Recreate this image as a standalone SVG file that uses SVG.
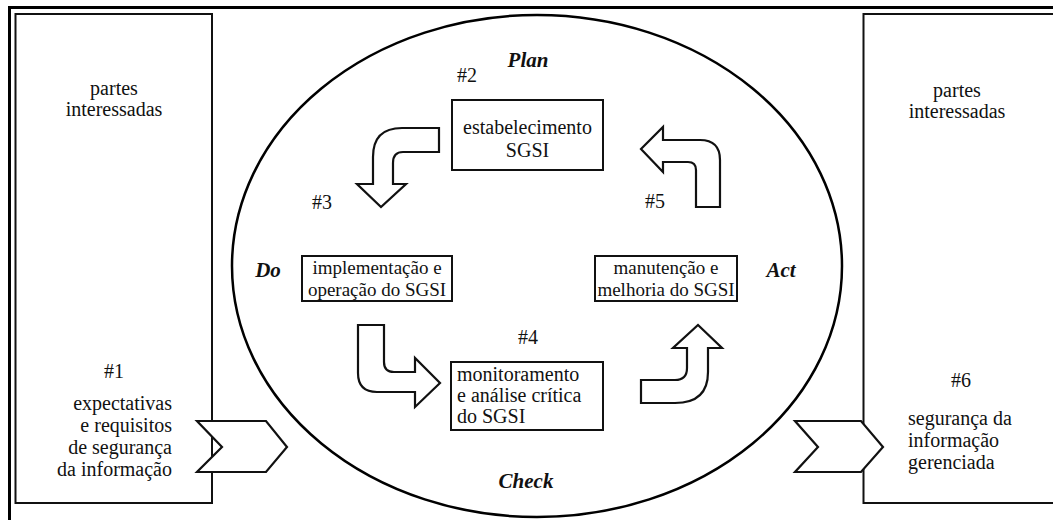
<svg xmlns="http://www.w3.org/2000/svg" width="1053" height="520" viewBox="0 0 1053 520">
<style>
text{font-family:'Liberation Serif','Times New Roman',Times,'DejaVu Serif',serif;font-size:20px;fill:#111}
.b{font-size:21px;font-weight:bold;font-style:italic}
.s{font-size:19px}
.box{fill:#fff;stroke:#111;stroke-width:2}
.arr{fill:#fff;stroke:#111;stroke-width:2.2;stroke-linejoin:miter}
.m{text-anchor:middle}
.e{text-anchor:end}
</style>
<rect x="0" y="0" width="1053" height="520" fill="#fff"/>
<rect id="frame" x="9.5" y="7.5" width="1100" height="600" fill="none" stroke="#000" stroke-width="3"/>
<g id="left-box">
<rect class="box" x="15.5" y="14" width="196.5" height="489"/>
<text class="m" x="114" y="95">partes</text>
<text class="m" x="114" y="116">interessadas</text>
<text class="m" x="114" y="378">#1</text>
<text class="e" x="172" y="410">expectativas</text>
<text class="e" x="172" y="432">e requisitos</text>
<text class="e" x="172" y="454">de segurança</text>
<text class="e" x="172" y="476">da informação</text>
</g>
<g id="right-box">
<rect class="box" x="863.5" y="14" width="250" height="489"/>
<text class="m" x="957" y="97">partes</text>
<text class="m" x="957" y="118">interessadas</text>
<text class="m" x="961" y="387">#6</text>
<text x="908" y="425">segurança da</text>
<text x="908" y="447">informação</text>
<text x="908" y="469">gerenciada</text>
</g>
<g id="cycle">
<ellipse cx="537" cy="266" rx="305" ry="251" fill="#fff" stroke="#000" stroke-width="2.5"/>
<text class="b m" x="528" y="67">Plan</text>
<text class="b m" x="268" y="277">Do</text>
<text class="b m" x="781" y="277">Act</text>
<text class="b m" x="526" y="488">Check</text>
</g>
<g id="n2">
<text x="457" y="82">#2</text>
<rect class="box" x="452" y="100" width="151" height="70"/>
<text class="m" x="527.5" y="134">estabelecimento</text>
<text class="m" x="527.5" y="157">SGSI</text>
</g>
<g id="n3">
<text class="m" x="322" y="209">#3</text>
<rect class="box" x="302" y="256" width="150" height="45"/>
<text class="m s" x="377" y="274">implementação e</text>
<text class="m s" x="377" y="296">operação do SGSI</text>
</g>
<g id="n4">
<text class="m" x="528" y="344">#4</text>
<rect class="box" x="451" y="362" width="152" height="68"/>
<text x="457" y="381">monitoramento</text>
<text x="457" y="402">e análise crítica</text>
<text x="457" y="423">do SGSI</text>
</g>
<g id="n5">
<text x="645" y="208">#5</text>
<rect class="box" x="595" y="256" width="142" height="45"/>
<text class="m s" x="666" y="274">manutenção e</text>
<text class="m s" x="666" y="296">melhoria do SGSI</text>
</g>
<g id="connectors">
<path class="arr" d="M439,128 L402,128 Q373,128 373,157 L373,184 L357,184 L381,207 L406,184 L393,184 L393,163 Q393,152 403,152 L439,152 Z"/>
<path class="arr" d="M720,207 L720,160 Q720,140 700,140 L663,140 L663,127 L641,149 L663,172 L663,162 L688,162 Q696,162 696,170 L696,207 Z"/>
<path class="arr" d="M358,325 L384,325 L384,362 Q384,372 394,372 L415,372 L415,358 L440,383 L415,407 L415,392 L377,392 Q358,392 358,373 Z"/>
<path class="arr" d="M641,380 L641,403 L675,403 Q708,403 708,372 L708,348 L722,348 L698,325 L673,348 L687,348 L687,368 Q687,380 675,380 Z"/>
<polygon class="arr" points="197,421 266,421 287,447 266,472 197,472 222,447"/>
<polygon class="arr" points="795,421 861,421 883,447 861,472 795,472 818,447"/>
</g>
</svg>
